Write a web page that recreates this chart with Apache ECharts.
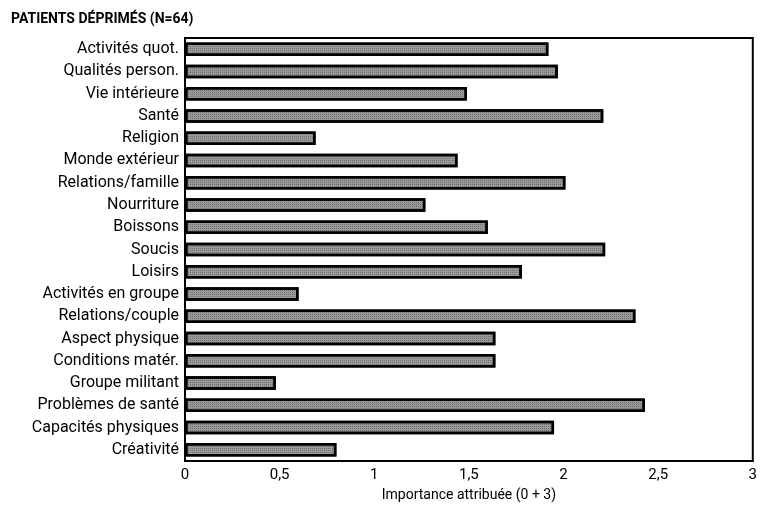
<!DOCTYPE html>
<html>
<head>
<meta charset="utf-8">
<script src="https://cdn.jsdelivr.net/npm/echarts@6/dist/echarts.min.js"></script>
<style>
html,body{margin:0;padding:0;background:#fff;}
#chart{width:760px;height:507px;}
</style>
</head>
<body>
<div id="chart"></div>
<script>
var title = 'PATIENTS DÉPRIMÉS (N=64)';
var categories = ['Activités quot.','Qualités person.','Vie intérieure','Santé','Religion','Monde extérieur','Relations/famille','Nourriture','Boissons','Soucis','Loisirs','Activités en groupe','Relations/couple','Aspect physique','Conditions matér.','Groupe militant','Problèmes de santé','Capacités physiques','Créativité'];
var values = [1.92,1.97,1.49,2.21,0.69,1.44,2.01,1.27,1.60,2.22,1.78,0.60,2.38,1.64,1.64,0.48,2.43,1.95,0.80];
var xTickLabels = {0:'0',0.5:'0,5',1:'1',1.5:'1,5',2:'2',2.5:'2,5',3:'3'};
var xAxisName = 'Importance attribuée (0 + 3)';

var FONT = '"Roboto","Liberation Sans",sans-serif';
var chart = echarts.init(document.getElementById('chart'));
chart.setOption({
  animation:false,
  backgroundColor:'#fff',
  title:{text:title,left:6,top:7,textStyle:{fontFamily:FONT,fontSize:14,fontWeight:'bold',color:'#000'}},
  grid:{left:185,right:4,top:38,bottom:43,show:true,borderColor:'#000',borderWidth:2,containLabel:false},
  xAxis:{
    type:'value',min:0,max:3,interval:0.5,
    name:xAxisName,nameLocation:'middle',nameGap:27,
    nameTextStyle:{fontFamily:FONT,fontSize:14,color:'#000'},
    axisLine:{show:true,lineStyle:{color:'#000',width:2}},
    axisTick:{show:false},
    splitLine:{show:false},
    axisLabel:{fontFamily:FONT,fontSize:15,color:'#000',margin:7,
      formatter:function(v){return xTickLabels[v]!==undefined?xTickLabels[v]:'';}}
  },
  yAxis:{
    type:'category',data:categories,inverse:true,
    axisLine:{show:true,lineStyle:{color:'#000',width:2}},
    axisTick:{show:false},
    axisLabel:{fontFamily:FONT,fontSize:16,color:'#000',margin:6}
  },
  series:[{
    type:'bar',data:values,barWidth:13.5,
    itemStyle:{color:'#9a9a9a',borderColor:'#000',borderWidth:2.5,
      decal:{symbol:'rect',symbolSize:1,dashArrayX:[1,1],dashArrayY:[1,1],color:'rgba(60,60,60,0.45)',rotation:0}}
  }]
});
</script>
</body>
</html>
